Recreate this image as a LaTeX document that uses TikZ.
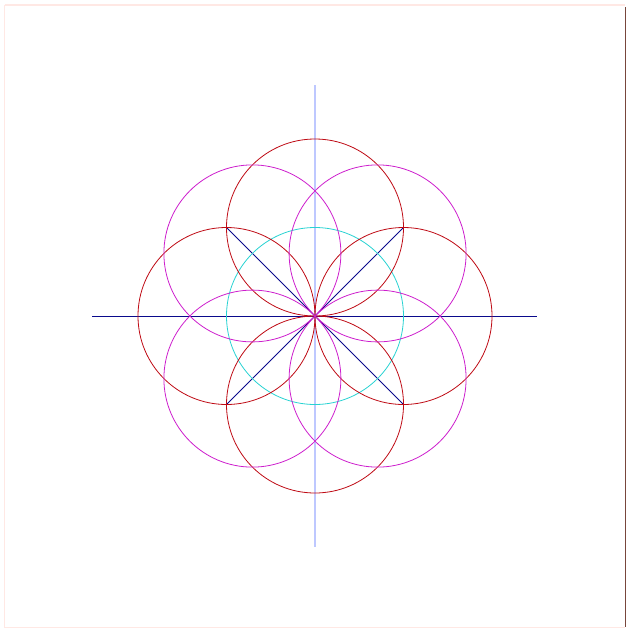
\documentclass[tikz,border=0pt]{standalone}
\definecolor{cred}{RGB}{190,10,20}
\definecolor{cmag}{RGB}{205,30,205}
\definecolor{ccyan}{RGB}{40,210,210}
\definecolor{cnavy}{RGB}{10,10,140}
\definecolor{clblue}{RGB}{190,200,255}
\definecolor{cframe}{RGB}{255,232,228}
\definecolor{cedge}{RGB}{120,70,60}
\begin{document}
\begin{tikzpicture}[x=1pt,y=-1pt,
  redc/.style={draw=cred,line width=0.8pt},
  magc/.style={draw=cmag,line width=0.8pt},
  cyanc/.style={draw=ccyan,line width=0.8pt},
  navyl/.style={draw=cnavy,line width=0.9pt},
  axisv/.style={draw=clblue,line width=1.2pt}]
\useasboundingbox (0,0) rectangle (627,633);
% frame
\draw[cframe,line width=1.2pt] (4.5,5) -- (625,5);
\draw[cframe,line width=1.2pt] (4.5,5) -- (4.5,627.5) -- (625,627.5);
\draw[cedge,line width=1pt] (625,7) -- (625,627);
% key points
\coordinate (O) at (315,316);
\coordinate (L) at (92,316);
\coordinate (R) at (537,316);
\coordinate (T) at (315,85);
\coordinate (B) at (315,547);
\coordinate (UL) at (227,228);
\coordinate (UR) at (403,228);
\coordinate (LL) at (227,404);
\coordinate (LR) at (403,404);
% axes
\draw[axisv] (T) -- (B);
\draw[navyl] (L) -- (R);
\draw[navyl] (UL) -- (LR);
\draw[navyl] (UR) -- (LL);
% cyan circle
\draw[cyanc] (O) circle (88.5);
% red circles
\draw[redc] (315,227.5) circle (88.5);
\draw[redc] (315,404.5) circle (88.5);
\draw[redc] (226.5,316) circle (88.5);
\draw[redc] (403.5,316) circle (88.5);
% magenta circles
\draw[magc] (252.4,253.4) circle (88.5);
\draw[magc] (377.6,253.4) circle (88.5);
\draw[magc] (252.4,378.6) circle (88.5);
\draw[magc] (377.6,378.6) circle (88.5);
\end{tikzpicture}
\end{document}
